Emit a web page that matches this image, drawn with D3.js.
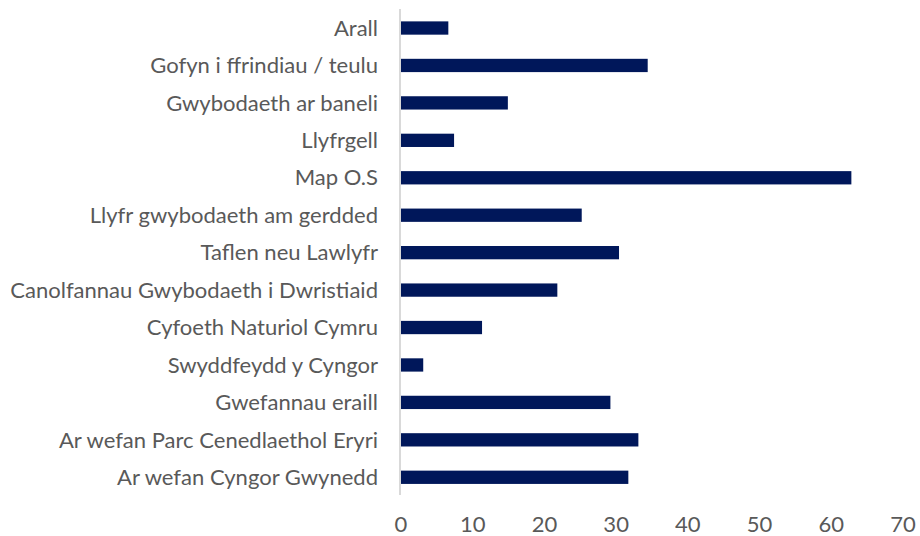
<!DOCTYPE html>
<html>
<head>
<meta charset="utf-8">
<script src="https://cdn.jsdelivr.net/npm/d3@7/dist/d3.min.js"></script>
<style>
  html, body { margin: 0; padding: 0; background: #fff; }
  svg text { font-family: Lato, "Open Sans", sans-serif; fill: #595959; }
</style>
</head>
<body>
<svg id="chart" width="920" height="536"></svg>
<script>
// Categories top to bottom, as they appear in the chart
const categories = [
  'Arall',
  'Gofyn i ffrindiau / teulu',
  'Gwybodaeth ar baneli',
  'Llyfrgell',
  'Map O.S',
  'Llyfr gwybodaeth am gerdded',
  'Taflen neu Lawlyfr',
  'Canolfannau Gwybodaeth i Dwristiaid',
  'Cyfoeth Naturiol Cymru',
  'Swyddfeydd y Cyngor',
  'Gwefannau eraill',
  'Ar wefan Parc Cenedlaethol Eryri',
  'Ar wefan Cyngor Gwynedd'
];
const values = [6.6, 34.4, 14.9, 7.4, 62.8, 25.2, 30.4, 21.8, 11.3, 3.1, 29.2, 33.1, 31.7];
const xTicks = [0, 10, 20, 30, 40, 50, 60, 70];

const svg = d3.select('#chart');
const x = d3.scaleLinear().domain([0, 70]).range([401, 903]);
const y = d3.scaleBand().domain(categories).range([9.3, 496]).padding(0);
const barH = y.bandwidth() * 0.355;

// vertical axis line
svg.append('line')
  .attr('x1', 400).attr('x2', 400)
  .attr('y1', 9).attr('y2', 495)
  .attr('stroke', '#d9d9d9').attr('stroke-width', 2);

svg.selectAll('rect.bar')
  .data(categories)
  .join('rect')
  .attr('class', 'bar')
  .attr('x', x(0))
  .attr('y', (d) => y(d) + (y.bandwidth() - barH) / 2)
  .attr('width', (d, i) => x(values[i]) - x(0))
  .attr('height', barH)
  .attr('fill', '#00175a');

// category labels
const labels = svg.selectAll('text.cat')
  .data(categories)
  .join('text')
  .attr('class', 'cat')
  .attr('x', 378)
  .attr('y', (d) => y(d) + y.bandwidth() / 2)
  .attr('dy', '0.35em')
  .attr('text-anchor', 'end')
  .style('font-size', '18px')
  .text((d) => d);

// fit font size so the longest label spans like the original (~368px)
const longest = labels.filter((d) => d === 'Canolfannau Gwybodaeth i Dwristiaid').node();
const fs = 18 * 368 / longest.getComputedTextLength();
labels.style('font-size', fs + 'px');

// x tick labels
svg.selectAll('text.tick')
  .data(xTicks)
  .join('text')
  .attr('class', 'tick')
  .attr('x', (d) => x(d))
  .attr('y', 524)
  .attr('dy', '0.35em')
  .attr('text-anchor', 'middle')
  .style('font-size', fs + 'px')
  .text((d) => d);
</script>
</body>
</html>
